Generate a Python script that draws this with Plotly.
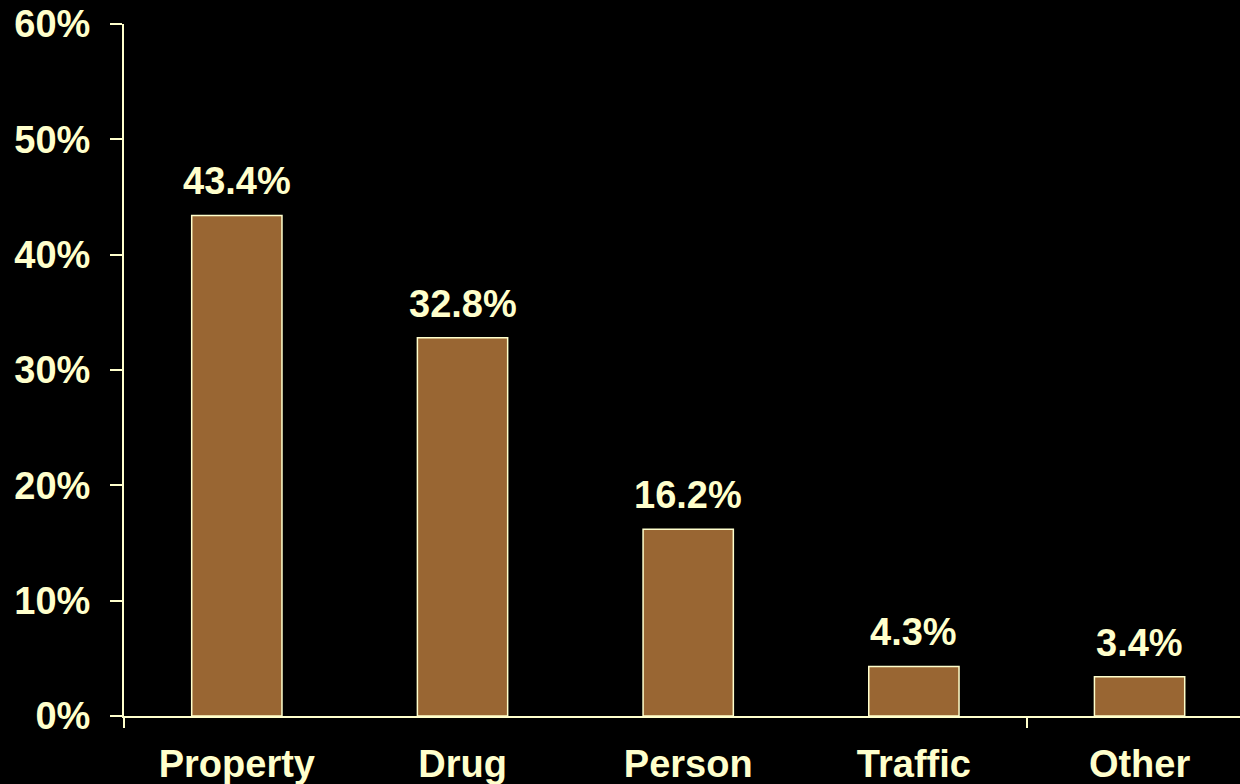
import plotly.graph_objects as go

categories = ["Property", "Drug", "Person", "Traffic", "Other"]
values = [43.4, 32.8, 16.2, 4.3, 3.4]
labels = ["43.4%", "32.8%", "16.2%", "4.3%", "3.4%"]
y_ticks = [0, 10, 20, 30, 40, 50, 60]
y_tick_text = ["0%", "10%", "20%", "30%", "40%", "50%", "60%"]

CREAM = "#FFFFCC"
BAR = "#996633"
FONT = dict(family="Liberation Sans, Arial, sans-serif", size=38, color=CREAM, weight="bold")

fig = go.Figure()
fig.add_trace(go.Bar(
    x=categories, y=values, width=0.4,
    marker=dict(color=BAR, line=dict(color=CREAM, width=1.5)),
    hoverinfo="skip",
))
# invisible trace to activate the overlay axis used for the boundary ticks
fig.add_trace(go.Scatter(x=[0], y=[0], xaxis="x2", mode="markers",
                         marker=dict(opacity=0), showlegend=False, hoverinfo="skip"))

for c, v, t in zip(categories, values, labels):
    fig.add_annotation(x=c, y=v, text=t, showarrow=False, yanchor="bottom",
                       yshift=11, font=FONT)

xr = [-0.5, 4.445]
fig.update_layout(
    width=1240, height=784,
    paper_bgcolor="black", plot_bgcolor="black",
    margin=dict(l=124, r=0, t=24, b=68),
    showlegend=False, bargap=0.6,
    font=FONT,
    xaxis=dict(type="category", range=xr, showline=True, linecolor=CREAM, linewidth=2,
               ticks="", showgrid=False, zeroline=False,
               tickfont=FONT, ticklabelstandoff=13),
    xaxis2=dict(type="linear", range=xr, overlaying="x", side="bottom",
                showline=False, showgrid=False, zeroline=False,
                tickvals=[-0.5, 3.5], ticks="outside", ticklen=11, tickwidth=2,
                tickcolor=CREAM, showticklabels=False),
    yaxis=dict(range=[0, 60], tickvals=y_ticks, ticktext=y_tick_text,
               showline=True, linecolor=CREAM, linewidth=2,
               ticks="outside", ticklen=12, tickwidth=2, tickcolor=CREAM,
               showgrid=False, zeroline=False, tickfont=FONT, ticklabelstandoff=12),
)

fig.write_html("out.html", config={"displayModeBar": False},
               post_script="document.body.style.margin='0';document.body.style.background='black';document.body.style.overflow='hidden';")
